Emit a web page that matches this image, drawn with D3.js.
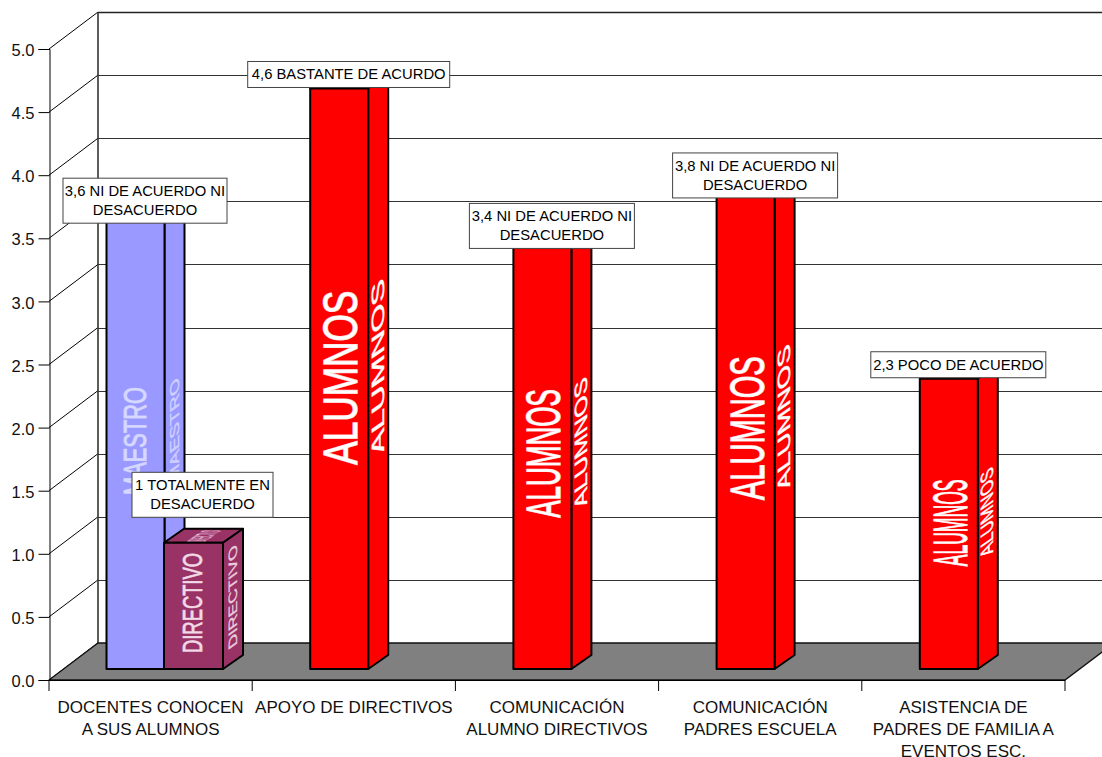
<!DOCTYPE html>
<html><head><meta charset="utf-8">
<script src="https://cdn.jsdelivr.net/npm/d3@7"></script>
<style>html,body{margin:0;padding:0;background:#fff}svg{display:block}text{font-family:"Liberation Sans",Arial,sans-serif}</style>
</head><body><svg id="c" width="1102" height="757"></svg>
<script>
const categories=[["DOCENTES CONOCEN","A SUS ALUMNOS"],["APOYO DE DIRECTIVOS"],["COMUNICACIÓN","ALUMNO DIRECTIVOS"],["COMUNICACIÓN","PADRES ESCUELA"],["ASISTENCIA DE","PADRES DE FAMILIA A","EVENTOS ESC."]];
const tickValues=[0,0.5,1,1.5,2,2.5,3,3.5,4,4.5,5];
const barCategory=[0,0,1,2,3,4];
const barSlot=[0,1,0,0,0,0];
const barValues=[3.6,1,4.6,3.4,3.8,2.3];
const barNames=["MAESTRO","DIRECTIVO","ALUMNOS","ALUMNOS","ALUMNOS","ALUMNOS"];
const barColors=["#9999ff","#993366","#ff0000","#ff0000","#ff0000","#ff0000"];
const barLabels=[["3,6 NI DE ACUERDO NI","DESACUERDO"],["1 TOTALMENTE EN","DESACUERDO"],["4,6 BASTANTE DE ACURDO"],["3,4 NI DE ACUERDO NI","DESACUERDO"],["3,8 NI DE ACUERDO NI","DESACUERDO"],["2,3 POCO DE ACUERDO"]];
const labelShift=[0,-34,0,0,0,0];
const labelWidths=[164,141,202,165,165,175];

const svg=d3.select("#c");
const x=d3.scaleBand().domain(d3.range(categories.length)).range([49,1065]);
const y=d3.scaleLinear().domain([0,5]).range([680,49]);
const bw=58, wall={dx:49,dy:-37}, depth={dx:20,dy:-14}, inset={dy:-11};

const g=svg.append("g");
tickValues.forEach(v=>{
  const Y=y(v);
  g.append("line").attr("x1",49).attr("y1",Y).attr("x2",49+wall.dx).attr("y2",Y+wall.dy).attr("stroke","#000");
  g.append("line").attr("x1",49+wall.dx).attr("y1",Math.round(Y+wall.dy)+0.5).attr("x2",1102).attr("y2",Math.round(Y+wall.dy)+0.5)
    .attr("stroke",v==5?"#222":"#333").attr("stroke-width",v==5?1.6:1.2);
});
g.append("line").attr("x1",98).attr("x2",98).attr("y1",y(5)+wall.dy).attr("y2",y(0)+wall.dy).attr("stroke","#333").attr("stroke-width",1.6);
g.append("path").attr("d",d3.line()([[49,y(0)],[1065,y(0)],[1065+wall.dx,y(0)+wall.dy],[49+wall.dx,y(0)+wall.dy]])+"Z").attr("fill","#808080").attr("stroke","#111").attr("stroke-width",1.3);

const yAxis=d3.axisLeft(y).tickValues(tickValues).tickFormat(d3.format(".1f")).tickSize(11).tickPadding(4);
const ya=svg.append("g").attr("transform","translate(49.5,0)").call(yAxis);
ya.selectAll("text").attr("font-size",16.5).attr("fill","#111").attr("font-family",'"Liberation Sans"').attr("dy","0.4em");
ya.selectAll("line,path").attr("stroke","#000");
const xb=svg.append("g");
xb.append("line").attr("x1",49).attr("x2",1065).attr("y1",680.5).attr("y2",680.5).attr("stroke","#000");
d3.range(categories.length+1).forEach(i=>{
  const X=49+i*x.step();
  xb.append("line").attr("x1",X).attr("x2",X).attr("y1",680).attr("y2",691).attr("stroke","#000");
});
categories.forEach((c,i)=>{
  const t=xb.append("text").attr("text-anchor","middle").attr("font-size",17).attr("fill","#111");
  c.forEach((l,j)=>t.append("tspan").attr("x",x(i)+x.step()/2).attr("y",713.2+j*21.8).text(l));
});

const barX=i=>x(barCategory[i])+bw+barSlot[i]*57.5-(i<2?0.5:0);
const bars=svg.append("g");
function tex(name,m,len,fs,col,op,sw){
  bars.append("text").attr("transform",`matrix(${m.join(",")})`).attr("font-size",fs)
    .attr("fill",col).attr("fill-opacity",op).attr("stroke",col).attr("stroke-opacity",op*0.8).attr("stroke-width",sw).attr("textLength",len).attr("lengthAdjust","spacingAndGlyphs")
    .attr("dominant-baseline","central").attr("text-anchor","middle").text(name);
}
barValues.forEach((v,i)=>{
  const X=barX(i), top=y(v)+inset.dy, base=y(0)+inset.dy, c=barColors[i];
  const w=i==1?bw+1:bw;
  const s=bars.append("g").attr("stroke","#000").attr("stroke-width",2).attr("stroke-linejoin","round");
  s.append("path").attr("fill",c).attr("d",d3.line()([[X,top],[X+depth.dx,top+depth.dy],[X+w+depth.dx,top+depth.dy],[X+w,top]])+"Z");
  s.append("path").attr("fill",c).attr("d",d3.line()([[X+w,top],[X+w+depth.dx,top+depth.dy],[X+w+depth.dx,base+depth.dy],[X+w,base]])+"Z");
  s.append("rect").attr("fill",c).attr("x",X).attr("y",top).attr("width",w).attr("height",base-top);
  const name=barNames[i], cx=X+w/2, sx=X+w+depth.dx/2;
  if(i==0){
    tex(name,[0,-1,1,0,cx,441],108,31,"#d6d8ff",1,1.2);
    tex(name,[0,-1,0.42,-0.3,sx+0.5,431],104,31,"#d6d8ff",0.85,1.2);
  }else if(i==1){
    tex(name,[0,-1,1,0,cx-0.5,603],100,27,"#f3d9e6",1,0.9);
    tex(name,[0,-1,0.45,-0.32,sx,597],102,27,"#f3d9e6",0.9,0.9);
    tex(name,[0.16,-0.11,1,0,cx+10,536],100,27,"#f3d9e6",0.9,0.6);
  }else{
    const cy=(top+base)/2-1, L=v*37.8;
    tex(name,[0,-1,1,0,cx+1,cy],L,49,"#fff",1,1.6);
    tex(name,[0,-1,0.36,-0.25,sx-0.5,cy-10],L,49,"#fff",1,1.6);
  }
});

const lab=svg.append("g");
barValues.forEach((v,i)=>{
  const cx=barX(i)+bw/2+depth.dx/2-0.5;
  const cy=y(v)+inset.dy+depth.dy+labelShift[i];
  const L=barLabels[i], w=labelWidths[i], h=L.length==1?26:45;
  lab.append("rect").attr("x",cx-w/2).attr("y",cy-h/2).attr("width",w).attr("height",h).attr("fill","#fff").attr("stroke","#444");
  const t=lab.append("text").attr("text-anchor","middle").attr("font-size",14.8).attr("fill","#000");
  L.forEach((l,j)=>t.append("tspan").attr("x",cx).attr("y",cy-(L.length-1)*9.5+5+j*18.6).text(l));
});
</script></body></html>
